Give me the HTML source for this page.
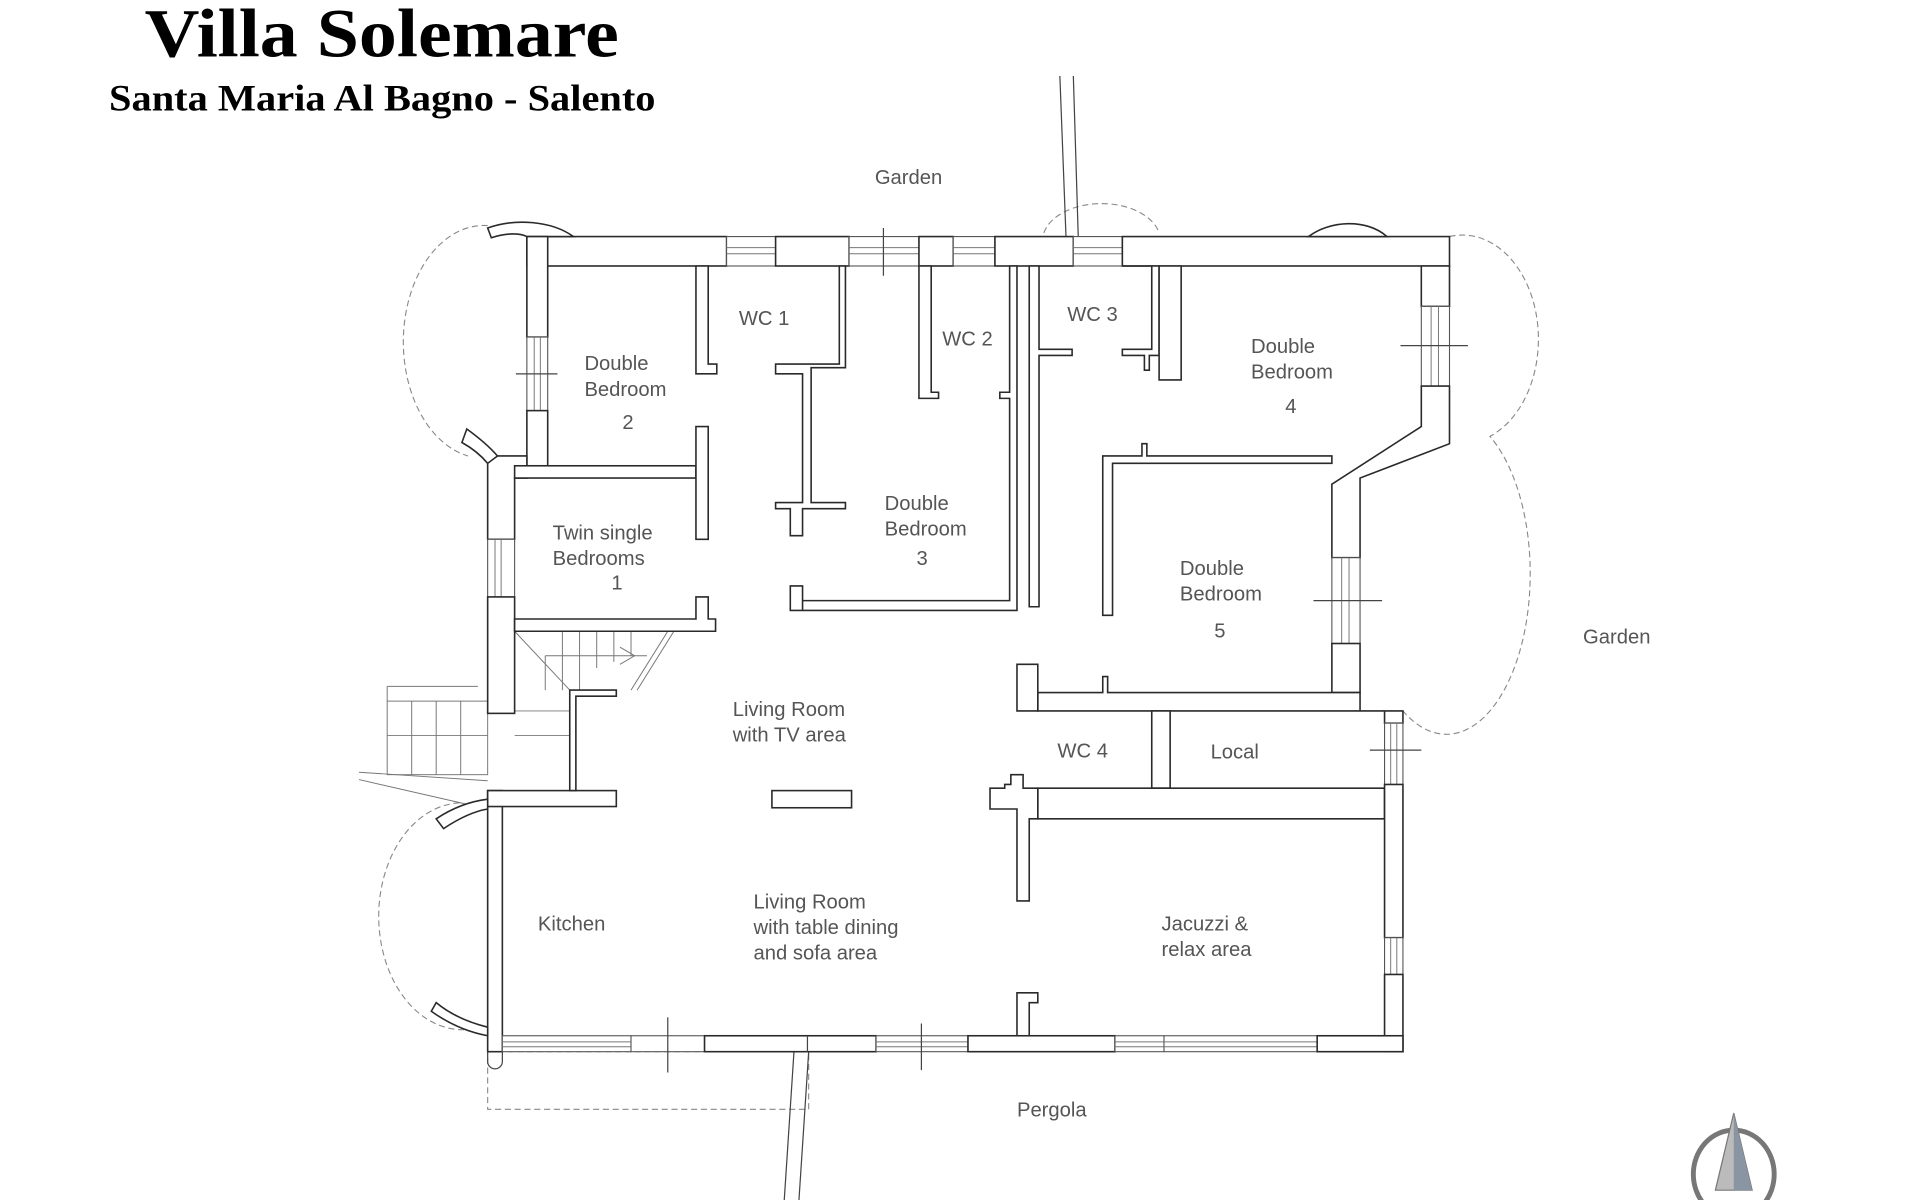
<!DOCTYPE html>
<html><head><meta charset="utf-8"><style>
html,body{margin:0;padding:0;background:#fff;width:1920px;height:1200px;overflow:hidden}
svg{display:block}
.w{fill:#fff;stroke:#2a2a2a;stroke-width:1.3}
.win{fill:#fff;stroke:#555;stroke-width:0.9}
.l{stroke:#444;stroke-width:1;fill:none}
.g{stroke:#777;stroke-width:0.8;fill:none}
.d{stroke:#888;stroke-width:0.9;fill:none;stroke-dasharray:5 3}
.t{font-family:"Liberation Sans",sans-serif;font-size:16.5px;fill:#555}
</style></head><body>
<svg width="1920" height="1200" viewBox="0 0 1567 979" preserveAspectRatio="none">
<text x="118" y="46" font-family="Liberation Serif,serif" font-weight="bold" font-size="56" textLength="387" lengthAdjust="spacingAndGlyphs" fill="#000">Villa Solemare</text>
<text x="89" y="90" font-family="Liberation Serif,serif" font-weight="bold" font-size="30" textLength="446" lengthAdjust="spacingAndGlyphs" fill="#000">Santa Maria Al Bagno - Salento</text>

<!-- dashed arcs -->
<path class="d" d="M398,184 A66,95 0 0 0 382,372"/>
<path class="d" d="M375,655 A68,92 0 0 0 380,840"/>
<path class="d" d="M1183,193 A62,85 0 0 1 1216,356 A60,115 0 0 1 1145,580"/>
<path class="d" d="M852,190 A48,30 0 0 1 946,190"/>
<rect class="d" x="398" y="858" width="262" height="47"/>

<!-- top and bottom long lines -->
<path class="l" d="M865,62 L870,193 M876,62 L880,193"/>
<path class="l" d="M648,858 L640,980 M660,858 L652,980"/>

<!-- exterior stairs -->
<g class="g">
<rect x="316" y="572" width="82" height="60"/>
<path d="M316,560 V572 M316,560 H390 M316,600 H398 M336,572 V632 M356,572 V632 M376,572 V632 M293,630 L398,637 M293,636 L398,660"/>
</g>

<!-- interior stairs -->
<g class="g">
<path d="M420,515 H550 L520,563 M420,515 L465,563 M445,535 H528 M420,580 H465 M420,600 H465 M445,535 V563 M459,515 V563 M473,515 V563 M487,515 V545 M501,515 V540 M515,515 V535 M545,515 L515,563 M506,528 L518,535 L506,542"/>
</g>

<!-- outer walls top -->
<rect class="w" x="430" y="193" width="163" height="24"/>
<path class="w" d="M468,193 C450,180 420,178 398,186 L401,194 C413,190 424,190 430,193 Z"/>
<rect class="win" x="593" y="193" width="40" height="24"/><path class="g" d="M593,202 H633 M593,207 H633"/>
<rect class="w" x="633" y="193" width="60" height="24"/>
<rect class="win" x="693" y="193" width="57" height="24"/><path class="g" d="M693,202 H750 M693,207 H750"/><path class="l" d="M721,186 V225"/>
<rect class="w" x="750" y="193" width="28" height="24"/>
<rect class="win" x="778" y="193" width="34" height="24"/><path class="g" d="M778,202 H812 M778,207 H812"/>
<rect class="w" x="812" y="193" width="64" height="24"/>
<rect class="win" x="876" y="193" width="40" height="24"/><path class="g" d="M876,202 H916 M876,207 H916"/>
<rect class="w" x="916" y="193" width="267" height="24"/>
<path class="w" d="M1068,193 C1085,180 1115,178 1132,193 Z"/>

<!-- left walls -->
<rect class="w" x="430" y="193" width="17" height="82"/>
<rect class="win" x="430" y="275" width="17" height="60"/><path class="g" d="M436,275 V335 M441,275 V335"/><path class="l" d="M421,305 H455"/>
<rect class="w" x="430" y="335" width="17" height="45"/>
<path class="w" d="M398,372 L430,372 V390 L420,390 V440 H398 Z"/>
<path class="w" d="M381,350 C392,358 400,365 406,372 L398,378 C393,372 386,366 377,361 Z"/>
<rect class="win" x="398" y="440" width="22" height="47"/><path class="g" d="M404,440 V487 M409,440 V487"/>
<rect class="w" x="398" y="487" width="22" height="95"/>
<rect class="w" x="398" y="645" width="12" height="213"/>
<rect class="w" x="398" y="645" width="105" height="13"/>
<path class="w" d="M356,668 C368,660 382,654 398,652 V660 C386,662 374,668 362,676 Z"/>
<path class="w" d="M356,818 C368,828 382,834 398,838 V845 C382,842 366,835 352,825 Z"/>
<path class="l" d="M398,858 V866 A6,6 0 0 0 410,866 V858"/>

<!-- bedroom 2 / twin -->
<rect class="w" x="420" y="380" width="148" height="10"/>
<path class="w" d="M568,217 H578 V297 H585 V305 H568 Z"/>
<rect class="w" x="568" y="348" width="10" height="92"/>
<path class="w" d="M568,487 H578 V505 H584 V515 H420 V505 H568 Z"/>
<path class="w" d="M465,563 H503 V568 H470 V645 H465 Z"/>

<!-- WC1 / bedroom3 partition -->
<path class="w" d="M685,217 H690 V300 H662 V410 H690 V415 H655 V437 H645 V415 H633 V410 H655 V305 H633 V297 H685 Z"/>
<path class="w" d="M750,217 H760 V320 H766 V325 H750 Z"/>
<path class="w" d="M824,217 H830 V498 H655 V478 H645 V498 H655 V490 H824 V325 H816 V320 H824 Z"/>
<!-- WC3 -->
<path class="w" d="M840,217 H848 V285 H875 V290 H848 V495 H840 Z"/>
<path class="w" d="M916,217 H946 V290 H938 V302 H934 V290 H916 V285 H940 V217 Z"/>
<path class="w" d="M946,217 H964 V310 H946 Z"/>
<!-- bedroom 4 right wall -->
<path class="w" d="M1160,217 H1183 V250 H1160 Z"/>
<rect class="win" x="1160" y="250" width="23" height="65"/><path class="g" d="M1168,250 V315 M1174,250 V315"/><path class="l" d="M1143,282 H1198"/>
<path class="w" d="M1160,315 H1183 V362 L1110,390 V455 H1087 V395 L1160,348 Z"/>
<path class="w" d="M900,372 H932 V362 H936 V372 H1087 L1087,378 H908 V502 H900 Z"/>
<rect class="win" x="1087" y="455" width="23" height="70"/><path class="g" d="M1095,455 V525 M1101,455 V525"/><path class="l" d="M1072,490 H1128"/>
<rect class="w" x="1087" y="525" width="23" height="40"/>
<path class="w" d="M900,552 H904 V565 H1110 V580 H1145 V590 H1130 V580 H847 V565 H900 Z"/>
<path class="w" d="M830,542 H847 V580 H830 Z"/>
<!-- WC4 / Local -->
<rect class="w" x="940" y="580" width="15" height="63"/>
<path class="w" d="M847,643 H1130 V668 H847 Z"/>
<rect class="win" x="1130" y="590" width="15" height="50"/><path class="g" d="M1135,590 V640 M1140,590 V640"/><path class="l" d="M1118,612 H1160"/>
<rect class="w" x="1130" y="640" width="15" height="125"/>
<rect class="win" x="1130" y="765" width="15" height="30"/><path class="g" d="M1135,765 V795 M1140,795 V765"/>
<rect class="w" x="1130" y="795" width="15" height="63"/>
<path class="w" d="M825,632 H835 V643 H847 V668 H840 V735 H830 V660 H808 V643 H820 V640 H825 Z"/>
<path class="w" d="M830,810 H847 V818 H840 V845 H830 Z"/>
<rect class="w" x="630" y="645" width="65" height="14"/>

<!-- bottom wall -->
<rect class="win" x="410" y="845" width="105" height="13"/><path class="g" d="M410,850 H515 M410,854 H515"/>
<rect class="win" x="515" y="845" width="60" height="13"/><path class="l" d="M545,830 V875"/>
<rect class="w" x="575" y="845" width="140" height="13"/><path class="l" d="M659,845 V858"/>
<rect class="win" x="715" y="845" width="75" height="13"/><path class="g" d="M715,850 H790 M715,854 H790"/><path class="l" d="M752,835 V873"/>
<rect class="w" x="790" y="845" width="120" height="13"/>
<rect class="win" x="910" y="845" width="40" height="13"/><path class="g" d="M910,850 H950 M910,854 H950"/>
<rect class="win" x="950" y="845" width="125" height="13"/><path class="g" d="M950,850 H1075 M950,854 H1075"/>
<rect class="w" x="1075" y="845" width="70" height="13"/>

<!-- compass -->
<g>
<ellipse cx="1415" cy="958" rx="33" ry="36" fill="none" stroke="#777" stroke-width="4"/>
<path d="M1415,908 L1400,971 H1430 Z" fill="#bbb" stroke="#777" stroke-width="1"/>
<path d="M1415,908 L1415,971 H1430 Z" fill="#8a95a3"/>
</g>

<!-- labels -->
<g class="t">
<text x="714" y="150">Garden</text>
<text x="1292" y="525">Garden</text>
<text x="830" y="911">Pergola</text>
<text x="603" y="265">WC 1</text>
<text x="769" y="282">WC 2</text>
<text x="871" y="262">WC 3</text>
<text x="863" y="618">WC 4</text>
<text x="988" y="619">Local</text>
<text x="477" y="302">Double</text><text x="477" y="323">Bedroom</text><text x="508" y="350">2</text>
<text x="451" y="440">Twin single</text><text x="451" y="461">Bedrooms</text><text x="499" y="481">1</text>
<text x="722" y="416">Double</text><text x="722" y="437">Bedroom</text><text x="748" y="461">3</text>
<text x="1021" y="288">Double</text><text x="1021" y="309">Bedroom</text><text x="1049" y="337">4</text>
<text x="963" y="469">Double</text><text x="963" y="490">Bedroom</text><text x="991" y="520">5</text>
<text x="598" y="584">Living Room</text><text x="598" y="605">with TV area</text>
<text x="615" y="741">Living Room</text><text x="615" y="762">with table dining</text><text x="615" y="783">and sofa area</text>
<text x="439" y="759">Kitchen</text>
<text x="948" y="759">Jacuzzi &amp;</text><text x="948" y="780">relax area</text>
</g>
</svg>
</body></html>
